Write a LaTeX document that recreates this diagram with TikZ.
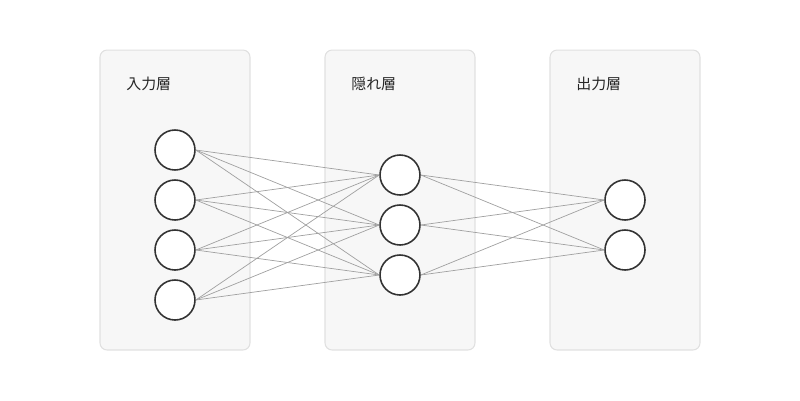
\documentclass[tikz,border=0pt]{standalone}
\usepackage{fontspec}
\newfontfamily\cjk{Noto Sans CJK JP}
\usetikzlibrary{positioning}
\definecolor{panelfill}{HTML}{F7F7F7}
\definecolor{paneldraw}{HTML}{E0E0E0}
\definecolor{edgegray}{HTML}{A0A0A0}
\definecolor{neurondraw}{HTML}{333333}
\tikzset{
  panel/.style={rectangle, draw=paneldraw, fill=panelfill, rounded corners=4pt, minimum width=3cm, minimum height=6cm, line width=0.6pt},
  layerlabel/.style={anchor=west, font=\cjk\fontsize{8.5}{10}\selectfont, text=black!85, inner sep=0pt},
  neuron/.style={circle, draw=neurondraw, fill=white, line width=0.9pt, minimum size=0.8cm, inner sep=0pt},
  synapse/.style={draw=edgegray, line width=0.4pt}
}
\begin{document}
\begin{tikzpicture}[x=0.02cm, y=-0.02cm]
        \useasboundingbox (0,0) rectangle (800,400);
        % layer panels
        \node[panel] (InputPanel) at (175, 200) {};
        \node[panel] (HiddenPanel) at (400, 200) {};
        \node[panel] (OutputPanel) at (625, 200) {};
        \node[layerlabel] (InputLabel) at (126, 84) {入力層};
        \node[layerlabel] (HiddenLabel) at (351, 84) {隠れ層};
        \node[layerlabel] (OutputLabel) at (576, 84) {出力層};

        % neurons
        \foreach \i/\y in {1/150, 2/200, 3/250, 4/300}
            \node[neuron] (in\i) at (175, \y) {};
        \foreach \j/\y in {1/175, 2/225, 3/275}
            \node[neuron] (hid\j) at (400, \y) {};
        \foreach \k/\y in {1/200, 2/250}
            \node[neuron] (out\k) at (625, \y) {};

        % connections
        \begin{scope}[on background layer/.style={}]
        \foreach \i in {1,...,4}
            \foreach \j in {1,...,3}
                \draw[synapse] (in\i.east) -- (hid\j.west);
        \foreach \j in {1,...,3}
            \foreach \k in {1,2}
                \draw[synapse] (hid\j.east) -- (out\k.west);
        \end{scope}
\end{tikzpicture}
\end{document}
